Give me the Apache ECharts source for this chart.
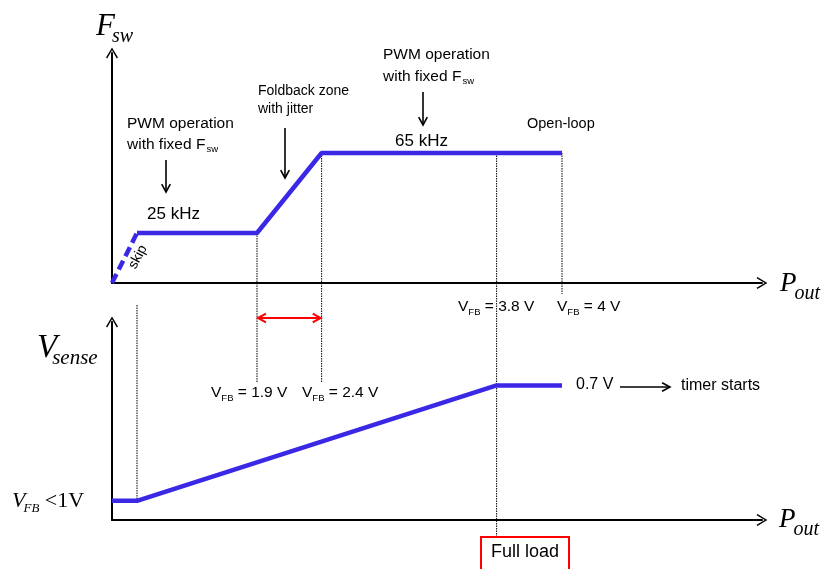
<!DOCTYPE html>
<html><head><meta charset="utf-8">
<script src="https://cdn.jsdelivr.net/npm/echarts@6/dist/echarts.min.js"></script>
<style>html,body{margin:0;padding:0;background:#fff}#c{width:821px;height:569px}</style>
</head><body><div id="c"></div>
<script>
// P_out in % of full load
const skipX = [0, 6.5];
const skipY = [0, 25];            // kHz (skip mode ramp)
const fswX = [6.5, 37.7, 54.5, 117];
const fswY = [25, 25, 65, 65];    // kHz
const vsX = [0, 6.5, 100, 117];
const vsY = [0.1, 0.1, 0.7, 0.7]; // V
const vfbMarks = ['1.9 V', '2.4 V', '3.8 V', '4 V'];
const vfbX = [37.7, 54.5, 100, 117];

const BLUE = '#3a28e6';
const SANS = '"Liberation Sans", Arial, sans-serif';
const SERIF = '"Liberation Serif", "Times New Roman", serif';
const chev = 'path://M0,10 L6,0 L12,10 L10.8,10.8 L6,2.6 L1.2,10.8 Z';

const chart = echarts.init(document.getElementById('c'), null, {renderer: 'canvas'});

function axisX(gi) {
  return {type: 'value', gridIndex: gi, min: 0, max: 169,
    axisLine: {show: true, onZero: false, symbol: ['none', chev], symbolSize: [12, 13], lineStyle: {color: '#000', width: 2}},
    axisTick: {show: false}, axisLabel: {show: false}, splitLine: {show: false}};
}
function axisY(gi, max) {
  return {type: 'value', gridIndex: gi, min: 0, max: max,
    axisLine: {show: true, onZero: false, symbol: ['none', chev], symbolSize: [12, 13], lineStyle: {color: '#000', width: 2}},
    axisTick: {show: false}, axisLabel: {show: false}, splitLine: {show: false}};
}
const zip = (xs, ys) => xs.map((x, i) => [x, ys[i]]);

chart.setOption({
  animation: false,
  backgroundColor: '#fff',
  grid: [
    {left: 112, right: 59, top: 53, bottom: 286},
    {left: 112, right: 59, top: 322, bottom: 49}
  ],
  xAxis: [axisX(0), axisX(1)],
  yAxis: [axisY(0, 115), axisY(1, 1.03)],
  series: [
    {type: 'line', xAxisIndex: 0, yAxisIndex: 0, data: zip(skipX, skipY), symbol: 'none', z: 5,
      lineStyle: {color: BLUE, width: 4.5, type: [10, 5]}},
    {type: 'line', xAxisIndex: 0, yAxisIndex: 0, data: zip(fswX, fswY), symbol: 'none', z: 5,
      lineStyle: {color: BLUE, width: 4.5}},
    {type: 'line', xAxisIndex: 1, yAxisIndex: 1, data: zip(vsX, vsY), symbol: 'none', z: 5,
      lineStyle: {color: BLUE, width: 4.5}}
  ]
});

const ctx = document.createElement('canvas').getContext('2d');
function fontOf(p) { return (p.style || '') + ' ' + p.size + 'px ' + (p.family || SANS); }
function measure(parts) { return parts.reduce((s, p) => { ctx.font = fontOf(p); return s + ctx.measureText(p.t).width; }, 0); }
// parts: [{t,size,dy,style,family}] ; y = vertical middle
function runs(x, y, parts, opts) {
  opts = opts || {};
  if (opts.center) x = x - measure(parts) / 2;
  const els = [];
  let cx = x;
  parts.forEach(p => {
    const f = fontOf(p);
    ctx.font = f;
    const w = ctx.measureText(p.t).width;
    els.push({type: 'text', x: cx + (p.dx || 0), y: y + (p.dy || 0), z: 20,
      style: {text: p.t, font: f, fill: opts.color || '#000', verticalAlign: 'middle', align: 'left'}});
    cx += w + (p.dx || 0);
  });
  return els;
}
function arrowLine(x1, y1, x2, y2, color, lw, head, both) {
  const els = [];
  const c = color || '#000';
  els.push({type: 'line', z: 15, shape: {x1, y1, x2, y2}, style: {stroke: c, lineWidth: lw || 1.5}});
  const h = head || 8;
  const ang = Math.atan2(y2 - y1, x2 - x1);
  const mk = (px, py, a) => ({type: 'polyline', z: 15,
    shape: {points: [[px - h * Math.cos(a - 0.5), py - h * Math.sin(a - 0.5)], [px, py], [px - h * Math.cos(a + 0.5), py - h * Math.sin(a + 0.5)]]},
    style: {stroke: c, lineWidth: lw || 1.5, fill: null}});
  els.push(mk(x2, y2, ang));
  if (both) els.push(mk(x1, y1, ang + Math.PI));
  return els;
}
const px0 = v => chart.convertToPixel({gridIndex: 0}, v);
const px1 = v => chart.convertToPixel({gridIndex: 1}, v);
function dotted(x, y1, y2) {
  return {type: 'line', z: 3, shape: {x1: x, y1: y1, x2: x, y2: y2}, style: {stroke: '#000', lineWidth: 1, lineDash: [1.5, 1]}};
}

const g = [];
// dotted guides
const xA = px0([vfbX[0], 0])[0], xB = px0([vfbX[1], 0])[0], xC = px0([vfbX[2], 0])[0], xD = px0([vfbX[3], 0])[0];
const xS = px0([fswX[0], 0])[0];
g.push(dotted(xA, px0([vfbX[0], fswY[1]])[1], 383));
g.push(dotted(xB, px0([vfbX[1], fswY[2]])[1], 383));
g.push(dotted(xC, px0([vfbX[2], fswY[3]])[1], 537));
g.push(dotted(xD, px0([vfbX[3], fswY[3]])[1], 294));
g.push(dotted(xS, 305, px1([vsX[1], vsY[1]])[1]));

// red double arrow (foldback zone)
g.push(...arrowLine(xA + 1, 318, xB - 1, 318, '#ff0000', 2, 9, true));

// axis titles
g.push(...runs(96, 27, [{t: 'F', size: 31, style: 'italic', family: SERIF}, {t: 'sw', size: 20, style: 'italic', family: SERIF, dy: 10, dx: -3}]));
g.push(...runs(37, 348, [{t: 'V', size: 33, style: 'italic', family: SERIF}, {t: 'sense', size: 21, style: 'italic', family: SERIF, dy: 10, dx: -5}]));
g.push(...runs(12, 501, [{t: 'V', size: 22, style: 'italic', family: SERIF}, {t: 'FB', size: 13, style: 'italic', family: SERIF, dy: 8, dx: -2}, {t: ' <1V', size: 22, family: SERIF, dy: 0}]));
g.push(...runs(780, 284, [{t: 'P', size: 27, style: 'italic', family: SERIF}, {t: 'out', size: 20, style: 'italic', family: SERIF, dy: 10, dx: -2}]));
g.push(...runs(779, 520, [{t: 'P', size: 27, style: 'italic', family: SERIF}, {t: 'out', size: 20, style: 'italic', family: SERIF, dy: 10, dx: -2}]));

// annotations
g.push(...runs(127, 124, [{t: 'PWM operation', size: 15.5}]));
g.push(...runs(127, 145, [{t: 'with fixed F', size: 15.5}, {t: 'sw', size: 9.5, dy: 4, dx: 1}]));
g.push(...arrowLine(166, 160, 166, 192, '#000', 1.6, 9));
g.push(...runs(147, 214, [{t: '25 kHz', size: 17}]));

g.push(...runs(258, 91, [{t: 'Foldback zone', size: 14}]));
g.push(...runs(258, 109, [{t: 'with jitter', size: 14}]));
g.push(...arrowLine(285, 128, 285, 178, '#000', 1.6, 9));

g.push(...runs(383, 55, [{t: 'PWM operation', size: 15.5}]));
g.push(...runs(383, 77, [{t: 'with fixed F', size: 15.5}, {t: 'sw', size: 9.5, dy: 4, dx: 1}]));
g.push(...arrowLine(423, 92, 423, 125, '#000', 1.6, 9));
g.push(...runs(395, 141, [{t: '65 kHz', size: 17}]));
g.push(...runs(527, 124, [{t: 'Open-loop', size: 14.5}]));

// skip label rotated
g.push({type: 'text', x: 138, y: 257, rotation: 62 * Math.PI / 180, z: 20,
  style: {text: 'skip', font: '14px ' + SANS, fill: '#000', align: 'center', verticalAlign: 'middle'}});

// VFB labels
function vfb(x, y, val) {
  return runs(x, y, [{t: 'V', size: 15.5}, {t: 'FB', size: 9.5, dy: 5}, {t: ' = ' + val, size: 15.5}]);
}
g.push(...vfb(211, 393, vfbMarks[0]));
g.push(...vfb(302, 393, vfbMarks[1]));
g.push(...vfb(458, 307, vfbMarks[2]));
g.push(...vfb(557, 307, vfbMarks[3]));

// 0.7 V -> timer starts
g.push(...runs(576, 385, [{t: '0.7 V', size: 16}]));
g.push(...arrowLine(620, 387, 670, 387, '#000', 1.6, 9));
g.push(...runs(681, 386, [{t: 'timer starts', size: 16}]));

// Full load box
g.push({type: 'rect', z: 10, shape: {x: 481, y: 537, width: 88, height: 40}, style: {fill: '#fff', stroke: '#ff0000', lineWidth: 2}});
g.push(...runs(491, 552, [{t: 'Full load', size: 18}]));

chart.setOption({graphic: g});
</script>
</body></html>
